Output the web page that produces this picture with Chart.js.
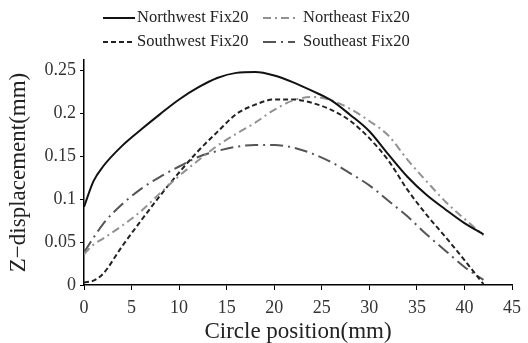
<!DOCTYPE html>
<html>
<head>
<meta charset="utf-8">
<script src="https://cdn.jsdelivr.net/npm/chart.js@4.4.1/dist/chart.umd.min.js"></script>
<style>
  html, body { margin: 0; padding: 0; background: #fff; }
  canvas { display: block; }
</style>
</head>
<body>
<canvas id="zChart" width="528" height="343"></canvas>
<script>
//////// data ////////
const positions = [0, 1, 2, 4, 6, 8, 10, 12, 14, 16, 18, 20, 22, 24, 26, 28, 30, 32, 34, 36, 38, 40, 42]
const northwest = [0.091, 0.121, 0.138, 0.162, 0.181, 0.199, 0.216, 0.230, 0.241, 0.247, 0.248, 0.244, 0.236, 0.226, 0.215, 0.198, 0.179, 0.152, 0.126, 0.105, 0.088, 0.072, 0.059]
const northeast = [0.036, 0.047, 0.054, 0.069, 0.086, 0.107, 0.127, 0.145, 0.162, 0.176, 0.189, 0.204, 0.215, 0.219, 0.215, 0.205, 0.191, 0.174, 0.146, 0.121, 0.097, 0.077, 0.058]
const southwest = [0.003, 0.005, 0.013, 0.045, 0.075, 0.104, 0.131, 0.156, 0.178, 0.199, 0.210, 0.216, 0.216, 0.212, 0.204, 0.191, 0.171, 0.145, 0.111, 0.082, 0.056, 0.029, 0.001]
const southeast = [0.038, 0.055, 0.071, 0.094, 0.112, 0.126, 0.138, 0.149, 0.156, 0.161, 0.163, 0.163, 0.160, 0.153, 0.143, 0.130, 0.116, 0.098, 0.080, 0.059, 0.040, 0.021, 0.006]
const seriesNames = ["Northwest Fix20", "Northeast Fix20", "Southwest Fix20", "Southeast Fix20"]
const xTicks = [0, 5, 10, 15, 20, 25, 30, 35, 40, 45]
const yTicks = [0, 0.05, 0.1, 0.15, 0.2, 0.25]

let toPoints = (arr) => arr.map((v, i) => ({x: positions[i], y: v}))

const SERIF = "'Liberation Serif', 'DejaVu Serif', serif"

// legend drawn as a 2x2 grid above the plot
const gridLegend = {
    id: "gridLegend",
    afterDraw(chart) {
        const ctx = chart.ctx
        const cols = [{line: 103, text: 137}, {line: 263, text: 303}]
        const rows = [18, 42]
        chart.data.datasets.forEach((ds, i) => {
            const c = cols[i % 2]
            const y = rows[Math.floor(i / 2)]
            ctx.save()
            ctx.strokeStyle = ds.borderColor
            ctx.lineWidth = ds.borderWidth
            ctx.setLineDash(ds.borderDash || [])
            ctx.beginPath()
            ctx.moveTo(c.line, y)
            ctx.lineTo(c.line + 32, y)
            ctx.stroke()
            ctx.setLineDash([])
            ctx.fillStyle = "#222"
            ctx.font = "16.5px " + SERIF
            ctx.textBaseline = "middle"
            ctx.fillText(ds.label, c.text, y)
            ctx.restore()
        })
    }
}

let ctx = document.getElementById("zChart").getContext("2d")
const zChart = new Chart(ctx, {
    type: "line",
    data: {
        datasets: [{
            label: seriesNames[0],
            data: toPoints(northwest),
            borderColor: "#111",
            borderWidth: 2,
        }, {
            label: seriesNames[1],
            data: toPoints(northeast),
            borderColor: "#929292",
            borderWidth: 2,
            borderDash: [8, 4, 2, 4],
        }, {
            label: seriesNames[2],
            data: toPoints(southwest),
            borderColor: "#222",
            borderWidth: 2,
            borderDash: [5, 3],
        }, {
            label: seriesNames[3],
            data: toPoints(southeast),
            borderColor: "#555",
            borderWidth: 2,
            borderDash: [13, 5, 2, 5],
        }]
    },
    options: {
        responsive: false,
        devicePixelRatio: 1,
        animation: false,
        layout: {padding: {top: 60, right: 14, left: 0, bottom: 0}},
        elements: {
            point: {radius: 0},
            line: {cubicInterpolationMode: "monotone", fill: false}
        },
        plugins: {
            legend: {display: false},
            tooltip: {enabled: false}
        },
        scales: {
            x: {
                type: "linear",
                min: 0,
                max: 45,
                afterBuildTicks: (scale) => { scale.ticks = xTicks.map(v => ({value: v})) },
                afterFit: (scale) => { scale.height = 58 },
                grid: {drawOnChartArea: false, drawTicks: true, tickLength: 5, color: "#000", tickWidth: 1},
                border: {display: true, color: "#000", width: 1.5},
                ticks: {color: "#333", padding: 7, font: {family: SERIF, size: 18}, maxRotation: 0},
                title: {display: true, text: "Circle position(mm)", color: "#222", padding: {top: 0, bottom: 0}, font: {family: SERIF, size: 23, lineHeight: 1}}
            },
            y: {
                min: 0,
                max: 0.262,
                afterBuildTicks: (scale) => { scale.ticks = yTicks.map(v => ({value: v})) },
                afterFit: (scale) => { scale.width = 84 },
                grid: {drawOnChartArea: false, drawTicks: true, tickLength: 4, color: "#000", tickWidth: 1},
                border: {display: true, color: "#000", width: 1.5},
                ticks: {color: "#333", padding: 4, font: {family: SERIF, size: 18}, callback: (v) => String(+v.toFixed(2))},
                title: {display: true, text: "Z\u2212displacement(mm)", color: "#222", padding: {top: 7, bottom: 0}, font: {family: SERIF, size: 23, lineHeight: 1}}
            }
        }
    },
    plugins: [gridLegend]
})
</script>
</body>
</html>
